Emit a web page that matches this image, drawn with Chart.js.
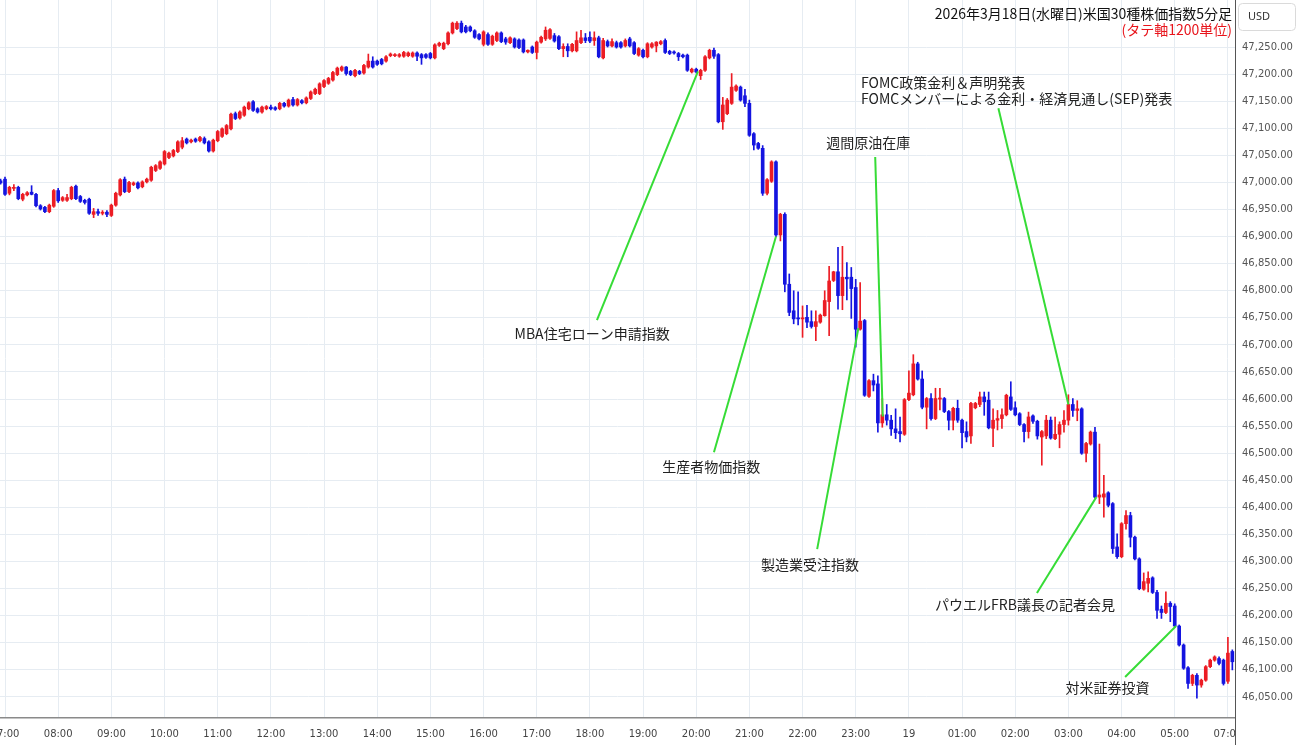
<!DOCTYPE html>
<html>
<head>
<meta charset="utf-8">
<title>米国30種株価指数5分足</title>
<script src="https://cdn.jsdelivr.net/npm/chart.js@4.4.1/dist/chart.umd.min.js"></script>
<style>
  html, body { margin: 0; padding: 0; background: #fff; }
</style>
</head>
<body>
<canvas id="priceChart" width="1300" height="745"></canvas>
<script>
// 5-minute candles; slot 0 = 07:00 (3/18), slot -1 = previous candle
const firstSlot = -1;

const opens = [
  47003,
  47006, 46980, 46989, 46991, 46969, 46977, 46982, 46978, 46957, 46954,
  46946, 46956, 46985, 46967, 46967, 46970, 46993, 46974, 46967, 46969,
  46941, 46946, 46943, 46945, 46939, 46958, 46977, 47006, 46983, 46996,
  46999, 46992, 47001, 47004, 47022, 47026, 47034, 47046, 47049, 47057,
  47065, 47080, 47075, 47080, 47077, 47081, 47075, 47058, 47077, 47085,
  47090, 47099, 47127, 47119, 47124, 47136, 47149, 47136, 47130, 47136,
  47139, 47138, 47136, 47146, 47141, 47153, 47143, 47151, 47147, 47155,
  47164, 47164, 47177, 47183, 47189, 47199, 47207, 47213, 47205, 47197,
  47205, 47202, 47213, 47224, 47224, 47227, 47224, 47234, 47234, 47233,
  47233, 47234, 47233, 47239, 47236, 47236, 47238, 47230, 47253, 47247,
  47256, 47276, 47284, 47294, 47287, 47287, 47280, 47273, 47255, 47273,
  47255, 47262, 47276, 47265, 47258, 47265, 47263, 47263, 47241, 47250,
  47240, 47259, 47265, 47266, 47271, 47269, 47247, 47251, 47243, 47243,
  47258, 47267, 47268, 47262, 47267, 47230, 47260, 47252, 47258, 47258,
  47252, 47265, 47258, 47235, 47244, 47232, 47250, 47252, 47256, 47262,
  47242, 47241, 47238, 47235, 47235, 47204, 47209, 47197, 47207, 47230,
  47244, 47236, 47112, 47127, 47146, 47170, 47176, 47160, 47146, 47090,
  47072, 47063, 46980, 47002, 47038, 46903, 46941, 46812, 46763, 46750,
  46748, 46751, 46743, 46734, 46742, 46754, 46780, 46819, 46835, 46791,
  46825, 46825, 46806, 46729, 46745, 46605, 46634, 46628, 46556, 46571,
  46561, 46545, 46540, 46535, 46599, 46608, 46665, 46637, 46585, 46601,
  46564, 46600, 46601, 46577, 46561, 46583, 46561, 46540, 46532, 46584,
  46590, 46604, 46598, 46546, 46561, 46564, 46571, 46604, 46584, 46573,
  46553, 46540, 46569, 46559, 46530, 46532, 46561, 46527, 46535, 46553,
  46561, 46590, 46579, 46582, 46500, 46517, 46539, 46419, 46419, 46427,
  46407, 46327, 46309, 46370, 46385, 46345, 46305, 46249, 46260, 46270,
  46243, 46212, 46206, 46223, 46218, 46181, 46146, 46104, 46075, 46090,
  46072, 46081, 46106, 46118, 46121, 46118, 46079, 46134
];

const highs = [
  47006,
  47010, 46993, 46996, 46993, 46980, 46983, 46994, 46980, 46959, 46956,
  46960, 46987, 46989, 46974, 46978, 46993, 46995, 46976, 46969, 46971,
  46952, 46951, 46948, 46948, 46960, 46982, 47007, 47010, 47002, 47001,
  47001, 47003, 47008, 47030, 47033, 47040, 47059, 47056, 47061, 47077,
  47083, 47082, 47080, 47082, 47085, 47084, 47077, 47080, 47096, 47101,
  47107, 47128, 47130, 47132, 47141, 47149, 47151, 47138, 47141, 47142,
  47143, 47140, 47148, 47148, 47154, 47157, 47155, 47153, 47158, 47169,
  47174, 47184, 47190, 47194, 47205, 47213, 47215, 47214, 47207, 47209,
  47207, 47218, 47237, 47232, 47226, 47229, 47234, 47239, 47238, 47238,
  47242, 47241, 47241, 47241, 47238, 47238, 47240, 47256, 47259, 47259,
  47278, 47296, 47297, 47298, 47290, 47289, 47282, 47275, 47280, 47276,
  47272, 47278, 47278, 47268, 47269, 47267, 47265, 47265, 47245, 47252,
  47261, 47270, 47287, 47284, 47275, 47271, 47256, 47256, 47257, 47278,
  47281, 47275, 47278, 47278, 47270, 47266, 47263, 47265, 47261, 47260,
  47265, 47268, 47260, 47249, 47246, 47258, 47258, 47260, 47262, 47265,
  47244, 47243, 47240, 47237, 47237, 47211, 47211, 47209, 47234, 47246,
  47248, 47238, 47157, 47155, 47201, 47180, 47178, 47172, 47152, 47092,
  47074, 47068, 47007, 47040, 47040, 46943, 46944, 46831, 46800, 46798,
  46772, 46773, 46763, 46763, 46757, 46800, 46845, 46836, 46880, 46882,
  46852, 46843, 46821, 46815, 46747, 46636, 46646, 46643, 46601, 46590,
  46570, 46582, 46567, 46601, 46652, 46682, 46668, 46652, 46603, 46610,
  46620, 46620, 46603, 46579, 46585, 46598, 46563, 46558, 46594, 46594,
  46613, 46613, 46613, 46582, 46579, 46582, 46609, 46632, 46595, 46575,
  46555, 46576, 46571, 46561, 46542, 46570, 46567, 46567, 46558, 46579,
  46608, 46601, 46597, 46584, 46520, 46541, 46548, 46517, 46459, 46429,
  46409, 46351, 46372, 46394, 46391, 46347, 46307, 46279, 46281, 46272,
  46247, 46218, 46244, 46226, 46222, 46183, 46148, 46106, 46092, 46093,
  46083, 46108, 46120, 46126, 46124, 46120, 46160, 46137
];

const lows = [
  46997,
  46976, 46977, 46985, 46968, 46966, 46975, 46977, 46955, 46949, 46944,
  46944, 46954, 46963, 46965, 46965, 46968, 46968, 46963, 46960, 46941,
  46935, 46939, 46940, 46937, 46937, 46956, 46975, 46981, 46981, 46994,
  46988, 46990, 46999, 47002, 47020, 47024, 47032, 47044, 47047, 47055,
  47062, 47071, 47073, 47074, 47075, 47071, 47056, 47056, 47075, 47083,
  47088, 47097, 47116, 47117, 47122, 47134, 47131, 47128, 47128, 47134,
  47134, 47133, 47134, 47139, 47139, 47141, 47141, 47145, 47145, 47153,
  47162, 47162, 47175, 47181, 47187, 47197, 47205, 47198, 47197, 47195,
  47199, 47200, 47211, 47211, 47216, 47217, 47222, 47232, 47232, 47231,
  47231, 47232, 47231, 47225, 47218, 47229, 47228, 47228, 47251, 47245,
  47254, 47274, 47282, 47276, 47276, 47278, 47266, 47263, 47252, 47253,
  47253, 47260, 47258, 47255, 47256, 47248, 47247, 47239, 47239, 47238,
  47228, 47257, 47262, 47264, 47259, 47245, 47232, 47232, 47241, 47241,
  47256, 47258, 47258, 47253, 47230, 47228, 47250, 47250, 47248, 47248,
  47250, 47250, 47236, 47233, 47230, 47230, 47248, 47241, 47254, 47238,
  47236, 47237, 47225, 47230, 47205, 47202, 47202, 47190, 47205, 47228,
  47229, 47110, 47098, 47125, 47144, 47168, 47150, 47140, 47085, 47060,
  47061, 46976, 46977, 47000, 46900, 46892, 46798, 46754, 46739, 46737,
  46714, 46732, 46731, 46708, 46740, 46753, 46717, 46817, 46766, 46765,
  46783, 46749, 46696, 46727, 46605, 46603, 46615, 46539, 46548, 46552,
  46533, 46527, 46521, 46533, 46597, 46606, 46635, 46582, 46545, 46561,
  46562, 46580, 46575, 46543, 46543, 46557, 46510, 46521, 46518, 46582,
  46586, 46570, 46545, 46512, 46543, 46546, 46569, 46579, 46569, 46551,
  46521, 46528, 46555, 46526, 46478, 46527, 46526, 46525, 46510, 46539,
  46552, 46568, 46560, 46498, 46484, 46515, 46417, 46407, 46382, 46401,
  46315, 46306, 46307, 46360, 46327, 46303, 46248, 46247, 46244, 46241,
  46195, 46195, 46204, 46189, 46179, 46144, 46101, 46066, 46071, 46048,
  46068, 46079, 46104, 46116, 46109, 46072, 46075, 46100
];

const closes = [
  46999,
  46978, 46991, 46991, 46970, 46978, 46981, 46978, 46957, 46951, 46946,
  46958, 46985, 46966, 46972, 46972, 46991, 46970, 46965, 46963, 46943,
  46946, 46943, 46945, 46941, 46958, 46980, 47005, 46983, 47000, 46999,
  46990, 47001, 47006, 47028, 47031, 47038, 47057, 47054, 47059, 47075,
  47077, 47073, 47078, 47076, 47083, 47073, 47058, 47078, 47094, 47099,
  47105, 47126, 47118, 47130, 47139, 47147, 47133, 47130, 47139, 47140,
  47136, 47135, 47146, 47141, 47152, 47143, 47153, 47147, 47156, 47167,
  47172, 47182, 47188, 47192, 47203, 47211, 47213, 47201, 47199, 47207,
  47201, 47216, 47224, 47213, 47218, 47219, 47232, 47237, 47236, 47236,
  47240, 47239, 47239, 47233, 47230, 47231, 47230, 47254, 47257, 47257,
  47276, 47294, 47294, 47278, 47278, 47280, 47268, 47265, 47278, 47255,
  47270, 47276, 47260, 47259, 47267, 47250, 47249, 47241, 47244, 47240,
  47259, 47268, 47281, 47282, 47261, 47247, 47251, 47243, 47255, 47262,
  47267, 47262, 47261, 47267, 47232, 47262, 47252, 47260, 47250, 47250,
  47262, 47252, 47238, 47247, 47232, 47256, 47256, 47259, 47260, 47240,
  47238, 47239, 47232, 47232, 47207, 47209, 47204, 47207, 47232, 47244,
  47233, 47112, 47143, 47152, 47176, 47178, 47152, 47146, 47087, 47069,
  47063, 46980, 47005, 47038, 46903, 46941, 46812, 46760, 46748, 46748,
  46750, 46742, 46734, 46743, 46755, 46782, 46818, 46835, 46791, 46825,
  46822, 46804, 46729, 46744, 46607, 46634, 46626, 46556, 46571, 46561,
  46545, 46538, 46536, 46599, 46611, 46665, 46637, 46585, 46601, 46564,
  46601, 46602, 46577, 46561, 46583, 46561, 46538, 46530, 46592, 46592,
  46604, 46595, 46547, 46561, 46564, 46571, 46607, 46581, 46571, 46553,
  46540, 46567, 46559, 46532, 46540, 46561, 46528, 46535, 46553, 46561,
  46590, 46579, 46582, 46500, 46518, 46539, 46419, 46423, 46425, 46404,
  46324, 46309, 46370, 46385, 46345, 46305, 46250, 46263, 46269, 46243,
  46210, 46206, 46223, 46217, 46181, 46146, 46103, 46075, 46090, 46072,
  46081, 46106, 46118, 46124, 46112, 46075, 46131, 46115
];

// hour ticks (06:00 is the daily break, so 05:00 is followed by 07:00)
const tickSlots = [0, 12, 24, 36, 48, 60, 72, 84, 96, 108, 120, 132, 144, 156,
  168, 180, 192, 204, 216, 228, 240, 252, 264, 276];
const tickLabels = ['07:00', '08:00', '09:00', '10:00', '11:00', '12:00', '13:00',
  '14:00', '15:00', '16:00', '17:00', '18:00', '19:00', '20:00', '21:00', '22:00',
  '23:00', '19', '01:00', '02:00', '03:00', '04:00', '05:00', '07:00'];

// event labels, anchored in (slot, price) units
const events = [
  { lines: ['MBA住宅ローン申請指数'], at: [132.5, 46720], from: [133.6, 46746], to: [156.4, 47205], align: 'center' },
  { lines: ['生産者物価指数'], at: [159.4, 46475], from: [160.0, 46502], to: [174.0, 46900], align: 'center' },
  { lines: ['製造業受注指数'], at: [181.7, 46294], from: [183.3, 46323], to: [192.6, 46731], align: 'center' },
  { lines: ['週間原油在庫'], at: [194.8, 47073], from: [196.4, 47047], to: [198.1, 46568], align: 'center' },
  { lines: ['FOMC政策金利＆声明発表', 'FOMCメンバーによる金利・経済見通し(SEP)発表'], at: [193.2, 47185], from: [224.2, 47137], to: [240.0, 46590], align: 'left' },
  { lines: ['パウエルFRB議長の記者会見'], at: [230.2, 46220], from: [232.9, 46242], to: [246.3, 46419], align: 'center' },
  { lines: ['対米証券投資'], at: [248.8, 46067], from: [252.8, 46087], to: [264.3, 46181], align: 'center' }
];

const titleText = '2026年3月18日(水曜日)米国30種株価指数5分足';
const noteText = '(タテ軸1200単位)';

const UP = '#ec1c24';
const DOWN = '#1414e0';

const candleColors = closes.map((c, k) => c >= opens[k] ? UP : DOWN);
const bodies = opens.map((o, k) => ({ x: k + firstSlot, y: [o, closes[k]] }));
const wicks = lows.map((l, k) => ({ x: k + firstSlot, y: [l, highs[k]] }));

const overlayPlugin = {
  id: 'overlay',
  afterDatasetsDraw(chart) {
    const ctx = chart.ctx;
    const xs = chart.scales.x, ys = chart.scales.y;
    ctx.save();
    ctx.strokeStyle = '#36dc36';
    ctx.lineWidth = 2;
    events.forEach(ev => {
      ctx.beginPath();
      ctx.moveTo(xs.getPixelForValue(ev.from[0]), ys.getPixelForValue(ev.from[1]));
      ctx.lineTo(xs.getPixelForValue(ev.to[0]), ys.getPixelForValue(ev.to[1]));
      ctx.stroke();
    });
    ctx.fillStyle = '#222';
    ctx.font = '14px "Noto Sans CJK JP"';
    ctx.textBaseline = 'middle';
    events.forEach(ev => {
      ctx.textAlign = ev.align;
      const x = xs.getPixelForValue(ev.at[0]);
      const y = ys.getPixelForValue(ev.at[1]);
      ev.lines.forEach((t, n) => ctx.fillText(t, x, y + n * 16));
    });
    ctx.restore();
  },
  afterDraw(chart) {
    const ctx = chart.ctx;
    const area = chart.chartArea;
    ctx.save();
    // price axis panel covers the bottom-right corner
    ctx.fillStyle = '#fff';
    ctx.fillRect(area.right + 1, area.bottom + 1, chart.width - area.right, chart.height - area.bottom);
    ctx.strokeStyle = '#555';
    ctx.lineWidth = 1;
    ctx.beginPath();
    ctx.moveTo(area.right + 0.5, 0);
    ctx.lineTo(area.right + 0.5, chart.height);
    ctx.stroke();

    ctx.textAlign = 'right';
    ctx.textBaseline = 'middle';
    ctx.font = '14px "Noto Sans CJK JP"';
    ctx.fillStyle = '#111';
    ctx.fillText(titleText, area.right - 3, 14);
    ctx.fillStyle = '#e8141b';
    ctx.fillText(noteText, area.right - 3, 30);

    ctx.strokeStyle = '#dadada';
    ctx.beginPath();
    ctx.roundRect(area.right + 3.5, 3.5, 57, 27, 4);
    ctx.stroke();
    ctx.textAlign = 'left';
    ctx.fillStyle = '#333';
    ctx.font = '11px "Noto Sans"';
    ctx.fillText('USD', area.right + 13, 17);
    ctx.restore();
  }
};

new Chart(document.getElementById('priceChart'), {
  type: 'bar',
  data: {
    datasets: [
      {
        data: bodies,
        backgroundColor: candleColors,
        barThickness: 3,
        minBarLength: 1,
        grouped: false,
        borderWidth: 0
      },
      {
        data: wicks,
        backgroundColor: candleColors,
        barThickness: 1,
        grouped: false,
        borderWidth: 0
      }
    ]
  },
  options: {
    responsive: false,
    animation: false,
    layout: { padding: 0 },
    plugins: {
      legend: { display: false },
      tooltip: { enabled: false }
    },
    scales: {
      x: {
        type: 'linear',
        offset: false,
        min: -1.13,
        max: 277.6,
        afterBuildTicks: s => { s.ticks = tickSlots.map(v => ({ value: v })); },
        afterFit: s => {
          s.height = 27;
          s.paddingLeft = 0;
          s.paddingRight = 0;
        },
        ticks: {
          autoSkip: false,
          maxRotation: 0,
          padding: 10,
          color: '#444',
          font: { family: 'DejaVu Sans', size: 10 },
          callback: v => tickLabels[tickSlots.indexOf(v)]
        },
        grid: { color: '#e6ecf2', offset: false, drawTicks: false },
        border: { color: '#8a8a8a', width: 1.5 }
      },
      y: {
        position: 'right',
        min: 46011.2,
        max: 47336.8,
        ticks: {
          stepSize: 50,
          padding: 7,
          color: '#555',
          font: { family: 'DejaVu Sans', size: 10 },
          callback: v => v.toLocaleString('en-US', { minimumFractionDigits: 2, maximumFractionDigits: 2 })
        },
        afterBuildTicks: s => { s.ticks = s.ticks.filter(t => t.value % 50 === 0 && t.value <= 47250); },
        afterFit: s => {
          s.width = 65;
          s.paddingTop = 0;
          s.paddingBottom = 0;
        },
        grid: { color: '#e6ecf2', drawTicks: false },
        border: { color: '#555', width: 1 }
      }
    }
  },
  plugins: [overlayPlugin]
});
</script>
</body>
</html>
